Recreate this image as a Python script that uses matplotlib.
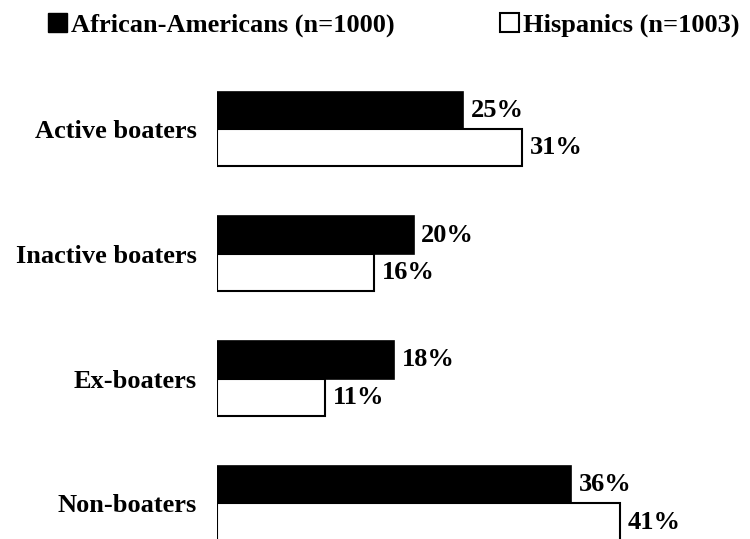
import matplotlib
matplotlib.use("Agg")
import matplotlib.pyplot as plt
from matplotlib.patches import Patch

categories = ["Active boaters", "Inactive boaters", "Ex-boaters", "Non-boaters"]
african_americans = [25, 20, 18, 36]
hispanics = [31, 16, 11, 41]
series_names = ["African-Americans (n=1000)", "Hispanics (n=1003)"]

plt.rcParams['font.family'] = ['Liberation Serif', 'DejaVu Serif']
plt.rcParams['font.weight'] = 'bold'

fig = plt.figure(figsize=(7.5, 5.39), dpi=100)
ax = fig.add_axes([217 / 750, 0, 533 / 750, (539 - 60) / 539])

h = 0.30
fs = 19
for i, cat in enumerate(categories):
    ax.barh(i - h / 2, african_americans[i], height=h, color='black',
            edgecolor='black', linewidth=1.2)
    ax.barh(i + h / 2, hispanics[i], height=h, color='white',
            edgecolor='black', linewidth=1.5)
    ax.text(african_americans[i] + 0.75, i - h / 2, f"{african_americans[i]}%",
            va='center', ha='left', fontsize=fs, fontweight='bold')
    ax.text(hispanics[i] + 0.75, i + h / 2, f"{hispanics[i]}%",
            va='center', ha='left', fontsize=fs, fontweight='bold')

ax.set_xlim(0, 533 / 9.84)
ax.set_ylim(3.285, -0.553)
ax.set_yticks(range(len(categories)))
ax.set_yticklabels(categories, fontsize=fs, fontweight='bold')
ax.tick_params(axis='y', length=0, pad=14.5)
ax.set_xticks([])
for s in ax.spines.values():
    s.set_visible(False)

handles = [Patch(facecolor='black', edgecolor='black'),
           Patch(facecolor='white', edgecolor='black', linewidth=1.5)]
fig.legend(handles, series_names, loc='upper left', bbox_to_anchor=(48 / 750, 1 - 13 / 539),
           ncol=2, frameon=False, borderpad=0, borderaxespad=0,
           handlelength=0.72, handleheight=0.72, handletextpad=0.15,
           columnspacing=4.0, prop={'size': 19, 'weight': 'bold'})

fig.savefig("out.png", dpi=100)
